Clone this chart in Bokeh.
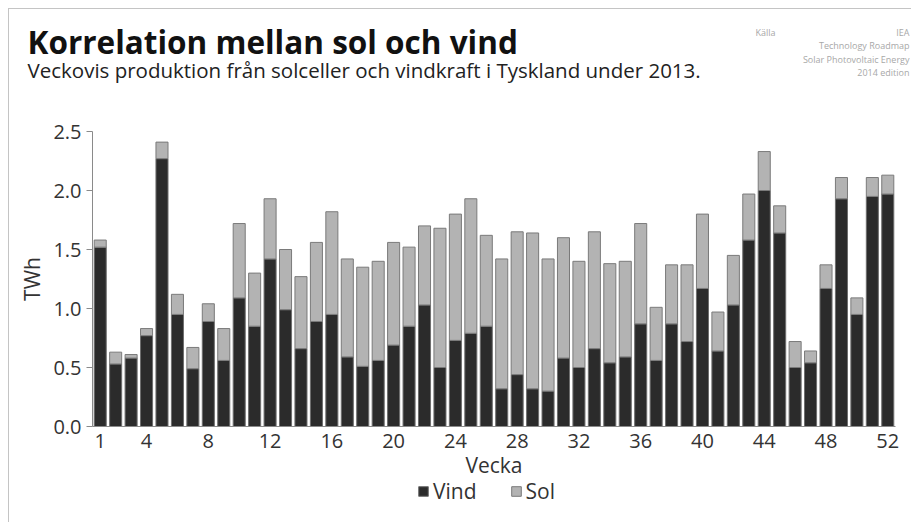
from bokeh.plotting import figure
from bokeh.models import (ColumnDataSource, FixedTicker, PrintfTickFormatter,
                          Legend, LegendItem, Range1d, Label)
from bokeh.embed import file_html
from bokeh.resources import INLINE

weeks = list(range(1, 53))
vind = [1.52, 0.53, 0.58, 0.77, 2.27, 0.95, 0.49, 0.89, 0.56, 1.09,
        0.85, 1.42, 0.99, 0.66, 0.89, 0.95, 0.59, 0.51, 0.56, 0.69,
        0.85, 1.03, 0.50, 0.73, 0.79, 0.85, 0.32, 0.44, 0.32, 0.30,
        0.58, 0.50, 0.66, 0.54, 0.59, 0.87, 0.56, 0.87, 0.72, 1.17,
        0.64, 1.03, 1.58, 2.00, 1.64, 0.50, 0.54, 1.17, 1.93, 0.95,
        1.95, 1.97]
sol = [0.06, 0.10, 0.03, 0.06, 0.14, 0.17, 0.18, 0.15, 0.27, 0.63,
       0.45, 0.51, 0.51, 0.61, 0.67, 0.87, 0.83, 0.84, 0.84, 0.87,
       0.67, 0.67, 1.18, 1.07, 1.14, 0.77, 1.10, 1.21, 1.32, 1.12,
       1.02, 0.90, 0.99, 0.84, 0.81, 0.85, 0.45, 0.50, 0.65, 0.63,
       0.33, 0.42, 0.39, 0.33, 0.23, 0.22, 0.10, 0.20, 0.18, 0.14,
       0.16, 0.16]
x_ticks = [1, 4, 8, 12, 16, 20, 24, 28, 32, 36, 40, 44, 48, 52]
y_ticks = [0.0, 0.5, 1.0, 1.5, 2.0, 2.5]

title = "Korrelation mellan sol och vind"
subtitle = "Veckovis produktion från solceller och vindkraft i Tyskland under 2013."
source_label = "Källa"
source_lines = ["IEA", "Technology Roadmap", "Solar Photovoltaic Energy", "2014 edition"]

FONT = "Open Sans"
W, H = 903, 514           # canvas placed at page (9, 9)
X0, X1 = 0.5, 52.5        # data extent of the bar area
Y0, Y1 = 0.0, 2.5
# pixel box of the bar area inside the canvas
PL, PR, PT, PB = 83, 886, 122, 417

sx = (PR - PL) / (X1 - X0)
sy = (PB - PT) / (Y1 - Y0)
x_range = Range1d(X0 - PL / sx, X1 + (W - PR) / sx)
y_range = Range1d(Y0 - (H - PB) / sy, Y1 + PT / sy)

src = ColumnDataSource(dict(week=weeks, Vind=vind, Sol=sol))

p = figure(width=W, height=H, output_backend="svg", toolbar_location=None,
           x_range=x_range, y_range=y_range, min_border=0,
           styles={"margin-left": "8px", "margin-top": "8px",
                   "border-top": "1px solid #c4c4c4", "border-left": "1px solid #c4c4c4"})

renderers = p.vbar_stack(["Vind", "Sol"], x="week", width=0.78, source=src,
                         color=["#2b2b2b", "#b3b3b3"], line_color=["#6e6e6e", "#7a7a7a"],
                         line_width=1)

p.grid.visible = False
p.outline_line_color = None
p.background_fill_color = "white"
p.border_fill_color = "white"

p.xaxis.fixed_location = Y0
p.yaxis.fixed_location = X0
p.xaxis.bounds = (X0, X1)
p.yaxis.bounds = (Y0, Y1)

p.xaxis.ticker = FixedTicker(ticks=x_ticks)
p.xaxis.major_tick_out = 0
p.xaxis.major_tick_in = 0
p.xaxis.minor_tick_out = 0
p.xaxis.minor_tick_in = 0
p.xaxis.axis_label = "Vecka"
p.yaxis.ticker = FixedTicker(ticks=y_ticks)
p.yaxis.formatter = PrintfTickFormatter(format="%.1f")
p.yaxis.major_tick_out = 6
p.yaxis.major_tick_in = 0
p.yaxis.minor_tick_out = 0
p.yaxis.minor_tick_in = 0
p.yaxis.axis_label = "TWh"
for ax in (p.xaxis, p.yaxis):
    ax.axis_line_color = "#8a8a8a"
    ax.major_tick_line_color = "#8a8a8a"
    ax.major_label_text_font = FONT
    ax.major_label_text_font_size = "20px"
    ax.major_label_text_color = "#333333"
    ax.axis_label_text_font = FONT
    ax.axis_label_text_font_size = "21px"
    ax.axis_label_text_font_style = "normal"
    ax.axis_label_text_color = "#333333"
p.xaxis.major_label_standoff = 7
p.xaxis.axis_label_standoff = 0
p.yaxis.major_label_standoff = 5
p.yaxis.axis_label_standoff = 4

legend = Legend(items=[LegendItem(label="Vind", renderers=[renderers[0]]),
                       LegendItem(label="Sol", renderers=[renderers[1]])],
                orientation="horizontal", location=(408, 18),
                label_text_font=FONT, label_text_font_size="21px", label_text_color="#333333",
                glyph_width=12, glyph_height=12, label_height=12, spacing=33, label_standoff=4,
                border_line_color=None, background_fill_alpha=0, padding=0, margin=0)
p.add_layout(legend, "center")


def lab(text, cx, cy, size, color, bold=False, align="left"):
    # cx, cy: canvas pixels (baseline) from top-left; labels use screen units from bottom-left
    p.add_layout(Label(x=cx, y=H - cy + 0.33 * size, x_units="screen", y_units="screen",
                       text=text, text_align=align, text_baseline="alphabetic",
                       text_font=FONT, text_font_style="bold" if bold else "normal",
                       text_font_size=f"{size}px", text_color=color))


lab(title, 18, 42, 31.5, "#111111", bold=True)
lab(subtitle, 18, 67, 20.5, "#222222")
lab(source_label, 746, 26, 9, "#a8a8a8")
for i, line in enumerate(source_lines):
    lab(line, 900, 26 + i * 13.4, 9, "#a8a8a8", align="right")

open("out.html", "w").write(file_html(p, INLINE))
